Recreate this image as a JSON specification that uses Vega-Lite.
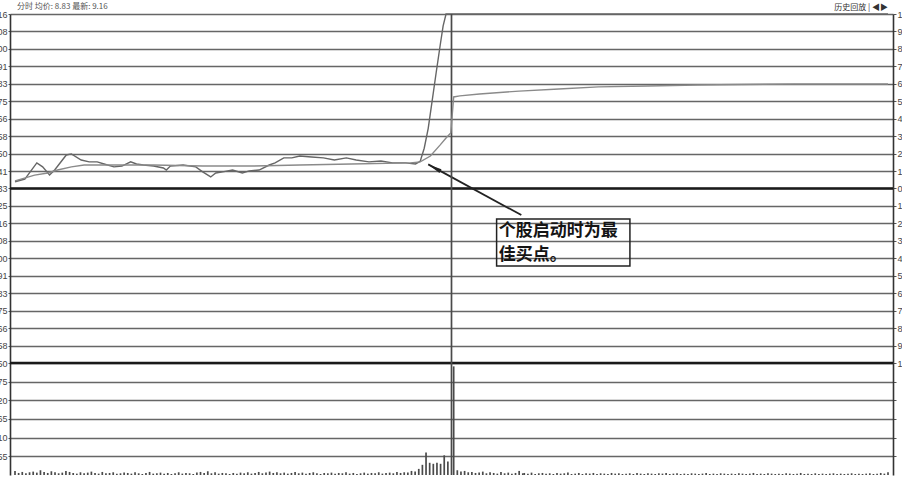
{
  "$schema": "https://vega.github.io/schema/vega-lite/v6.json",
  "width": 883,
  "height": 461,
  "autosize": {"type": "none"},
  "padding": {"left": 10, "top": 14, "right": 9, "bottom": 7},
  "background": "#ffffff",
  "config": {"view": {"stroke": null}, "font": "Liberation Sans"},
  "datasets": {
    "price": [
      {"i": 0, "p": 8.362}, {"i": 2.7, "p": 8.375}, {"i": 6.0, "p": 8.452}, {"i": 7.6, "p": 8.433}, {"i": 9.5, "p": 8.394},
      {"i": 10.9, "p": 8.418}, {"i": 14.1, "p": 8.490}, {"i": 15.5, "p": 8.495}, {"i": 18.2, "p": 8.466}, {"i": 20.4, "p": 8.457},
      {"i": 22.6, "p": 8.457}, {"i": 24.5, "p": 8.447}, {"i": 27.2, "p": 8.433}, {"i": 29.4, "p": 8.437}, {"i": 31.8, "p": 8.457},
      {"i": 33.4, "p": 8.447}, {"i": 35.3, "p": 8.442}, {"i": 38.1, "p": 8.437}, {"i": 40.8, "p": 8.428}, {"i": 41.6, "p": 8.418},
      {"i": 42.7, "p": 8.437}, {"i": 46.2, "p": 8.442}, {"i": 49.7, "p": 8.433}, {"i": 51.6, "p": 8.409}, {"i": 53.8, "p": 8.385},
      {"i": 55.2, "p": 8.404}, {"i": 57.1, "p": 8.409}, {"i": 59.8, "p": 8.418}, {"i": 62.5, "p": 8.404}, {"i": 64.4, "p": 8.414},
      {"i": 67.1, "p": 8.418}, {"i": 69.9, "p": 8.442}, {"i": 71.5, "p": 8.452}, {"i": 73.9, "p": 8.476}, {"i": 76.1, "p": 8.476},
      {"i": 78.3, "p": 8.485}, {"i": 81.5, "p": 8.480}, {"i": 84.8, "p": 8.476}, {"i": 87.8, "p": 8.466}, {"i": 91.1, "p": 8.476},
      {"i": 93.8, "p": 8.466}, {"i": 97.3, "p": 8.457}, {"i": 100.6, "p": 8.461}, {"i": 103.8, "p": 8.452}, {"i": 107.4, "p": 8.452},
      {"i": 110.1, "p": 8.447}, {"i": 111.4, "p": 8.460}, {"i": 112.5, "p": 8.522}, {"i": 113.6, "p": 8.617}, {"i": 114.7, "p": 8.751},
      {"i": 115.8, "p": 8.885}, {"i": 116.9, "p": 9.015}, {"i": 117.7, "p": 9.106}, {"i": 118.5, "p": 9.163}, {"i": 240, "p": 9.163}
    ],
    "avg": [
      {"i": 0, "a": 8.366}, {"i": 5.4, "a": 8.394}, {"i": 9.0, "a": 8.404}, {"i": 11.7, "a": 8.418}, {"i": 15.5, "a": 8.433},
      {"i": 19.0, "a": 8.442}, {"i": 24.5, "a": 8.442}, {"i": 38, "a": 8.442}, {"i": 51.6, "a": 8.437}, {"i": 65.2, "a": 8.437},
      {"i": 78.3, "a": 8.442}, {"i": 92.4, "a": 8.447}, {"i": 108.7, "a": 8.452}, {"i": 111.4, "a": 8.457}, {"i": 114.2, "a": 8.485},
      {"i": 116.9, "a": 8.538}, {"i": 118.5, "a": 8.571}, {"i": 119.8, "a": 8.595}, {"i": 120.6, "a": 8.767}, {"i": 122.3, "a": 8.772},
      {"i": 127.7, "a": 8.781}, {"i": 138.6, "a": 8.795}, {"i": 149.5, "a": 8.805}, {"i": 160.4, "a": 8.815}, {"i": 174, "a": 8.819},
      {"i": 187.6, "a": 8.824}, {"i": 214.7, "a": 8.829}, {"i": 240, "a": 8.829}
    ],
    "bold": [{"p": 8.33}, {"p": 7.4967}],
    "box": [{"x1": 132.4, "x2": 169.05, "y1": 8.184, "y2": 7.960}],
    "arrow": [{"x1": 139.2, "y1": 8.203, "x2": 113.6, "y2": 8.445}],
    "note": [{"i": 133.0, "p": 8.127, "t": "个股启动时为最"}, {"i": 133.0, "p": 8.014, "t": "佳买点。"}],
    "header": [{"i": 0, "p": 9.163, "t": "分时  均价: 8.83  最新: 9.16"}],
    "corner": [{"i": 240, "p": 9.163, "t": "历史回放 | ◀▶"}],
    "vol": [
      {"i":0,"v":12},{"i":1,"v":6},{"i":2,"v":9},{"i":3,"v":5},{"i":4,"v":8},{"i":5,"v":10},{"i":6,"v":7},{"i":7,"v":14},{"i":8,"v":9},{"i":9,"v":6},
      {"i":10,"v":11},{"i":11,"v":8},{"i":12,"v":5},{"i":13,"v":7},{"i":14,"v":12},{"i":15,"v":9},{"i":16,"v":6},{"i":17,"v":4},{"i":18,"v":8},{"i":19,"v":5},
      {"i":20,"v":7},{"i":21,"v":10},{"i":22,"v":6},{"i":23,"v":4},{"i":24,"v":9},{"i":25,"v":5},{"i":26,"v":6},{"i":27,"v":8},{"i":28,"v":4},{"i":29,"v":5},
      {"i":30,"v":7},{"i":31,"v":6},{"i":32,"v":4},{"i":33,"v":8},{"i":34,"v":5},{"i":35,"v":3},{"i":36,"v":6},{"i":37,"v":9},{"i":38,"v":4},{"i":39,"v":5},
      {"i":40,"v":7},{"i":41,"v":4},{"i":42,"v":6},{"i":43,"v":3},{"i":44,"v":5},{"i":45,"v":8},{"i":46,"v":4},{"i":47,"v":6},{"i":48,"v":5},{"i":49,"v":3},
      {"i":50,"v":7},{"i":51,"v":9},{"i":52,"v":6},{"i":53,"v":11},{"i":54,"v":5},{"i":55,"v":8},{"i":56,"v":4},{"i":57,"v":6},{"i":58,"v":5},{"i":59,"v":3},
      {"i":60,"v":6},{"i":61,"v":4},{"i":62,"v":7},{"i":63,"v":5},{"i":64,"v":8},{"i":65,"v":4},{"i":66,"v":6},{"i":67,"v":9},{"i":68,"v":5},{"i":69,"v":7},
      {"i":70,"v":10},{"i":71,"v":6},{"i":72,"v":8},{"i":73,"v":5},{"i":74,"v":7},{"i":75,"v":4},{"i":76,"v":6},{"i":77,"v":9},{"i":78,"v":5},{"i":79,"v":7},
      {"i":80,"v":4},{"i":81,"v":6},{"i":82,"v":8},{"i":83,"v":5},{"i":84,"v":3},{"i":85,"v":6},{"i":86,"v":5},{"i":87,"v":7},{"i":88,"v":4},{"i":89,"v":6},
      {"i":90,"v":5},{"i":91,"v":8},{"i":92,"v":4},{"i":93,"v":6},{"i":94,"v":3},{"i":95,"v":5},{"i":96,"v":7},{"i":97,"v":4},{"i":98,"v":6},{"i":99,"v":5},
      {"i":100,"v":8},{"i":101,"v":4},{"i":102,"v":6},{"i":103,"v":7},{"i":104,"v":5},{"i":105,"v":9},{"i":106,"v":6},{"i":107,"v":8},{"i":108,"v":7},{"i":109,"v":12},
      {"i":110,"v":10},{"i":111,"v":18},{"i":112,"v":30},{"i":113,"v":66},{"i":114,"v":36},{"i":115,"v":33},{"i":116,"v":36},{"i":117,"v":33},{"i":118,"v":58},{"i":119,"v":40},
      {"i":120,"v":1358},{"i":120.6,"v":320},{"i":121.6,"v":14},{"i":122.6,"v":10},{"i":123.6,"v":12},{"i":124.6,"v":8},{"i":125.6,"v":9},{"i":126.6,"v":6},{"i":127.6,"v":7},{"i":128.6,"v":10},{"i":129.6,"v":5},
      {"i":130.6,"v":8},{"i":131.6,"v":6},{"i":132.6,"v":4},{"i":133.6,"v":9},{"i":134.6,"v":5},{"i":135.6,"v":7},{"i":136.6,"v":4},{"i":137.6,"v":6},{"i":138.6,"v":12},{"i":139.6,"v":5},
      {"i":140,"v":6},{"i":141,"v":4},{"i":142,"v":7},{"i":143,"v":3},{"i":144,"v":5},{"i":145,"v":6},{"i":146,"v":4},{"i":147,"v":5},{"i":148,"v":3},{"i":149,"v":6},
      {"i":150,"v":4},{"i":151,"v":5},{"i":152,"v":7},{"i":153,"v":3},{"i":154,"v":4},{"i":155,"v":6},{"i":156,"v":3},{"i":157,"v":5},{"i":158,"v":4},{"i":159,"v":6},
      {"i":160,"v":3},{"i":161,"v":5},{"i":162,"v":4},{"i":163,"v":3},{"i":164,"v":6},{"i":165,"v":4},{"i":166,"v":5},{"i":167,"v":3},{"i":168,"v":4},{"i":169,"v":5},
      {"i":170,"v":3},{"i":171,"v":6},{"i":172,"v":4},{"i":173,"v":3},{"i":174,"v":5},{"i":175,"v":4},{"i":176,"v":3},{"i":177,"v":5},{"i":178,"v":4},{"i":179,"v":6},
      {"i":180,"v":3},{"i":181,"v":4},{"i":182,"v":5},{"i":183,"v":3},{"i":184,"v":4},{"i":185,"v":3},{"i":186,"v":5},{"i":187,"v":4},{"i":188,"v":3},{"i":189,"v":4},
      {"i":190,"v":6},{"i":191,"v":3},{"i":192,"v":4},{"i":193,"v":3},{"i":194,"v":5},{"i":195,"v":4},{"i":196,"v":3},{"i":197,"v":4},{"i":198,"v":3},{"i":199,"v":5},
      {"i":200,"v":4},{"i":201,"v":3},{"i":202,"v":4},{"i":203,"v":6},{"i":204,"v":3},{"i":205,"v":4},{"i":206,"v":3},{"i":207,"v":5},{"i":208,"v":4},{"i":209,"v":3},
      {"i":210,"v":4},{"i":211,"v":3},{"i":212,"v":5},{"i":213,"v":4},{"i":214,"v":3},{"i":215,"v":4},{"i":216,"v":6},{"i":217,"v":3},{"i":218,"v":4},{"i":219,"v":3},
      {"i":220,"v":5},{"i":221,"v":3},{"i":222,"v":4},{"i":223,"v":3},{"i":224,"v":4},{"i":225,"v":5},{"i":226,"v":3},{"i":227,"v":4},{"i":228,"v":3},{"i":229,"v":4},
      {"i":230,"v":5},{"i":231,"v":3},{"i":232,"v":4},{"i":233,"v":3},{"i":234,"v":4},{"i":235,"v":5},{"i":236,"v":3},{"i":237,"v":4},{"i":238,"v":6},{"i":239,"v":4},
      {"i":240,"v":8}
    ]
  },
  "resolve": {"scale": {"y": "independent"}},
  "layer": [
    {
      "data": {"name": "price"},
      "mark": {"type": "line", "color": "#666666", "strokeWidth": 1.4},
      "encoding": {
        "x": {"field": "i", "type": "quantitative", "scale": {"domain": [0, 240], "nice": false, "zero": false}, "axis": null},
        "y": {
          "field": "p", "type": "quantitative",
          "scale": {"domain": [6.962, 9.163], "nice": false, "zero": false},
          "axis": {
            "orient": "left", "title": null,
            "values": [9.163, 9.0797, 8.9963, 8.913, 8.8297, 8.7463, 8.663, 8.5797, 8.4963, 8.413, 8.33, 8.2467, 8.1633, 8.08, 7.9967, 7.9133, 7.83, 7.7467, 7.6633, 7.58, 7.4967, 7.4078, 7.3187, 7.2295, 7.1403, 7.0512],
            "labelExpr": "datum.value < 7.45 ? format(round((datum.value - 6.962) / 0.0016212 / 55) * 55, 'd') : format(datum.value, '.2f')",
            "grid": true,
            "gridColor": "#666666",
            "gridWidth": 1.7,
            "domainColor": "#333333", "domainWidth": 1.6,
            "tickColor": "#555555", "tickSize": 2,
            "labelFontSize": 9, "labelColor": "#444444", "labelPadding": 1, "labelFont": "Liberation Sans"
          }
        }
      }
    },
    {
      "data": {"name": "bold"},
      "mark": {"type": "rule", "color": "#1a1a1a", "strokeWidth": 2.6},
      "encoding": {
        "y": {"field": "p", "type": "quantitative", "scale": {"domain": [6.962, 9.163], "nice": false, "zero": false}, "axis": null}
      }
    },
    {
      "data": {"name": "box"},
      "mark": {"type": "rect", "fill": "transparent", "stroke": "#222222", "strokeWidth": 1.5},
      "encoding": {
        "x": {"field": "x1", "type": "quantitative", "scale": {"domain": [0, 240], "nice": false, "zero": false}, "axis": null},
        "x2": {"field": "x2"},
        "y": {"field": "y1", "type": "quantitative", "scale": {"domain": [6.962, 9.163], "nice": false, "zero": false}, "axis": null},
        "y2": {"field": "y2"}
      }
    },
    {
      "data": {"name": "arrow"},
      "mark": {"type": "rule", "color": "#222222", "strokeWidth": 1.8},
      "encoding": {
        "x": {"field": "x1", "type": "quantitative", "scale": {"domain": [0, 240], "nice": false, "zero": false}, "axis": null},
        "x2": {"field": "x2"},
        "y": {"field": "y1", "type": "quantitative", "scale": {"domain": [6.962, 9.163], "nice": false, "zero": false}, "axis": null},
        "y2": {"field": "y2"}
      }
    },
    {
      "data": {"name": "arrow"},
      "mark": {"type": "point", "shape": "M0,0L-0.3,2L0.3,2Z", "filled": true, "color": "#222222", "opacity": 1, "size": 196, "angle": 299},
      "encoding": {
        "x": {"field": "x2", "type": "quantitative", "scale": {"domain": [0, 240], "nice": false, "zero": false}, "axis": null},
        "y": {"field": "y2", "type": "quantitative", "scale": {"domain": [6.962, 9.163], "nice": false, "zero": false}, "axis": null}
      }
    },
    {
      "data": {"name": "note"},
      "mark": {"type": "text", "align": "left", "baseline": "middle", "fontSize": 17, "fontWeight": "bold", "font": "Noto Sans CJK SC", "color": "#151515"},
      "encoding": {
        "x": {"field": "i", "type": "quantitative", "scale": {"domain": [0, 240], "nice": false, "zero": false}, "axis": null},
        "y": {"field": "p", "type": "quantitative", "scale": {"domain": [6.962, 9.163], "nice": false, "zero": false}, "axis": null},
        "text": {"field": "t"}
      }
    },
    {
      "data": {"name": "header"},
      "mark": {"type": "text", "align": "left", "baseline": "bottom", "dx": 2, "dy": -3, "fontSize": 8, "font": "Noto Sans CJK SC", "color": "#555555"},
      "encoding": {
        "x": {"field": "i", "type": "quantitative", "scale": {"domain": [0, 240], "nice": false, "zero": false}, "axis": null},
        "y": {"field": "p", "type": "quantitative", "scale": {"domain": [6.962, 9.163], "nice": false, "zero": false}, "axis": null},
        "text": {"field": "t"}
      }
    },
    {
      "data": {"name": "corner"},
      "mark": {"type": "text", "align": "right", "baseline": "bottom", "dy": -2, "fontSize": 8, "font": "Noto Sans CJK SC", "color": "#333333"},
      "encoding": {
        "x": {"field": "i", "type": "quantitative", "scale": {"domain": [0, 240], "nice": false, "zero": false}, "axis": null},
        "y": {"field": "p", "type": "quantitative", "scale": {"domain": [6.962, 9.163], "nice": false, "zero": false}, "axis": null},
        "text": {"field": "t"}
      }
    },
    {
      "data": {"name": "vol"},
      "mark": {"type": "bar", "color": "#4a4a4a", "size": 1.7},
      "encoding": {
        "x": {"field": "i", "type": "quantitative", "scale": {"domain": [0, 240], "nice": false, "zero": false}, "axis": null},
        "y": {"field": "v", "type": "quantitative", "scale": {"domain": [0, 1358], "nice": false}, "axis": null}
      }
    },
    {
      "data": {"name": "avg"},
      "mark": {"type": "line", "color": "#8a8a8a", "strokeWidth": 1.4},
      "encoding": {
        "x": {"field": "i", "type": "quantitative", "scale": {"domain": [0, 240], "nice": false, "zero": false}, "axis": null},
        "y": {
          "field": "a", "type": "quantitative",
          "scale": {"domain": [6.962, 9.163], "nice": false, "zero": false},
          "axis": {
            "orient": "right", "title": null, "grid": false,
            "values": [9.163, 9.0797, 8.9963, 8.913, 8.8297, 8.7463, 8.663, 8.5797, 8.4963, 8.413, 8.33, 8.2467, 8.1633, 8.08, 7.9967, 7.9133, 7.83, 7.7467, 7.6633, 7.58, 7.4967, 7.4078, 7.3187, 7.2295, 7.1403, 7.0512],
            "labelExpr": "datum.value < 7.45 ? '' : format(abs(datum.value / 8.33 - 1) * 100, '.2f') + '%'",
            "domainColor": "#333333", "domainWidth": 1.6,
            "tickColor": "#555555", "tickSize": 3,
            "labelFontSize": 9, "labelColor": "#444444", "labelPadding": 1, "labelFont": "Liberation Sans"
          }
        }
      }
    }
  ]
}
